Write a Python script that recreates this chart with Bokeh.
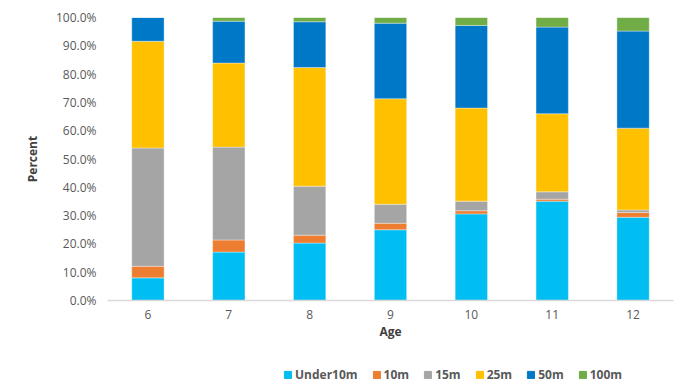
from bokeh.plotting import figure
from bokeh.layouts import column
from bokeh.models import NumeralTickFormatter, Legend, FixedTicker
from bokeh.embed import file_html
from bokeh.resources import INLINE

ages = ["6", "7", "8", "9", "10", "11", "12"]
series = ["Under10m", "10m", "15m", "25m", "50m", "100m"]
under10m = [8.0, 17.1, 20.3, 25.0, 30.6, 35.1, 29.4]
m10 = [4.1, 4.3, 2.8, 2.3, 1.1, 0.7, 1.7]
m15 = [41.8, 32.8, 17.3, 6.7, 3.4, 2.6, 0.9]
m25 = [37.7, 29.7, 41.9, 37.3, 32.9, 27.6, 28.9]
m50 = [8.4, 14.8, 16.2, 26.7, 29.2, 30.6, 34.3]
m100 = [0.0, 1.3, 1.5, 2.0, 2.8, 3.4, 4.8]
colors = ["#00BDF2", "#ED7D31", "#A5A5A5", "#FFC000", "#0078C8", "#70AD47"]

data = {"age": ages}
for name, vals in zip(series, [under10m, m10, m15, m25, m50, m100]):
    data[name] = [v / 100.0 for v in vals]

FONT = "Open Sans"
p = figure(x_range=ages, y_range=(0, 1), width=682, height=345,
           output_backend="svg", toolbar_location=None,
           min_border_left=107, min_border_right=9, min_border_top=17,
           min_border_bottom=45)
p.outline_line_color = None
p.xgrid.grid_line_color = None
p.ygrid.grid_line_color = None
p.x_range.range_padding = 0

p.vbar_stack(series, x="age", width=0.4, source=data, color=colors,
             line_color="white", line_width=0.6, line_alpha=0.6)

p.yaxis.formatter = NumeralTickFormatter(format="0.0%")
p.yaxis.ticker = FixedTicker(ticks=[i / 10 for i in range(11)])
p.yaxis.axis_line_color = None
p.yaxis.major_tick_line_color = None
p.yaxis.minor_tick_line_color = None
p.yaxis.major_label_text_color = "#595959"
p.yaxis.major_label_text_font = FONT
p.yaxis.major_label_text_font_size = "12px"
p.yaxis.axis_label = "Percent"
p.yaxis.axis_label_text_font = FONT
p.yaxis.axis_label_text_font_size = "12px"
p.yaxis.axis_label_text_font_style = "bold"
p.yaxis.axis_label_text_color = "#404040"
p.yaxis.axis_label_standoff = 12

p.xaxis.axis_line_color = "#D9D9D9"
p.xaxis.axis_line_width = 1.5
p.xaxis.major_tick_line_color = None
p.xaxis.minor_tick_line_color = None
p.xaxis.major_label_text_color = "#595959"
p.xaxis.major_label_text_font = FONT
p.xaxis.major_label_text_font_size = "12px"
p.xaxis.major_label_standoff = 3
p.xaxis.axis_label = "Age"
p.xaxis.axis_label_text_font = FONT
p.xaxis.axis_label_text_font_size = "12px"
p.xaxis.axis_label_text_font_style = "bold"
p.xaxis.axis_label_text_color = "#404040"
p.xaxis.axis_label_standoff = 1

# Legend strip below the chart (same series, drawn off-view so only the legend shows)
p2 = figure(x_range=ages, y_range=(5, 6), width=682, height=40,
            output_backend="svg", toolbar_location=None,
            min_border_left=0, min_border_right=0, min_border_top=0,
            min_border_bottom=0)
p2.outline_line_color = None
p2.axis.visible = False
p2.xgrid.grid_line_color = None
p2.ygrid.grid_line_color = None
rs2 = p2.vbar_stack(series, x="age", width=0.4, source=data, color=colors)

legend = Legend(items=[(s, [r]) for s, r in zip(series, rs2)],
                orientation="horizontal", location=(176, 2),
                label_text_font=FONT, label_text_font_size="12px",
                label_text_font_style="bold", label_text_color="#595959",
                glyph_width=9, glyph_height=9, spacing=14, label_standoff=3,
                border_line_color=None, background_fill_alpha=0,
                margin=0, padding=4)
p2.add_layout(legend, "center")

open("out.html", "w").write(file_html(column(p, p2, spacing=0), INLINE))
